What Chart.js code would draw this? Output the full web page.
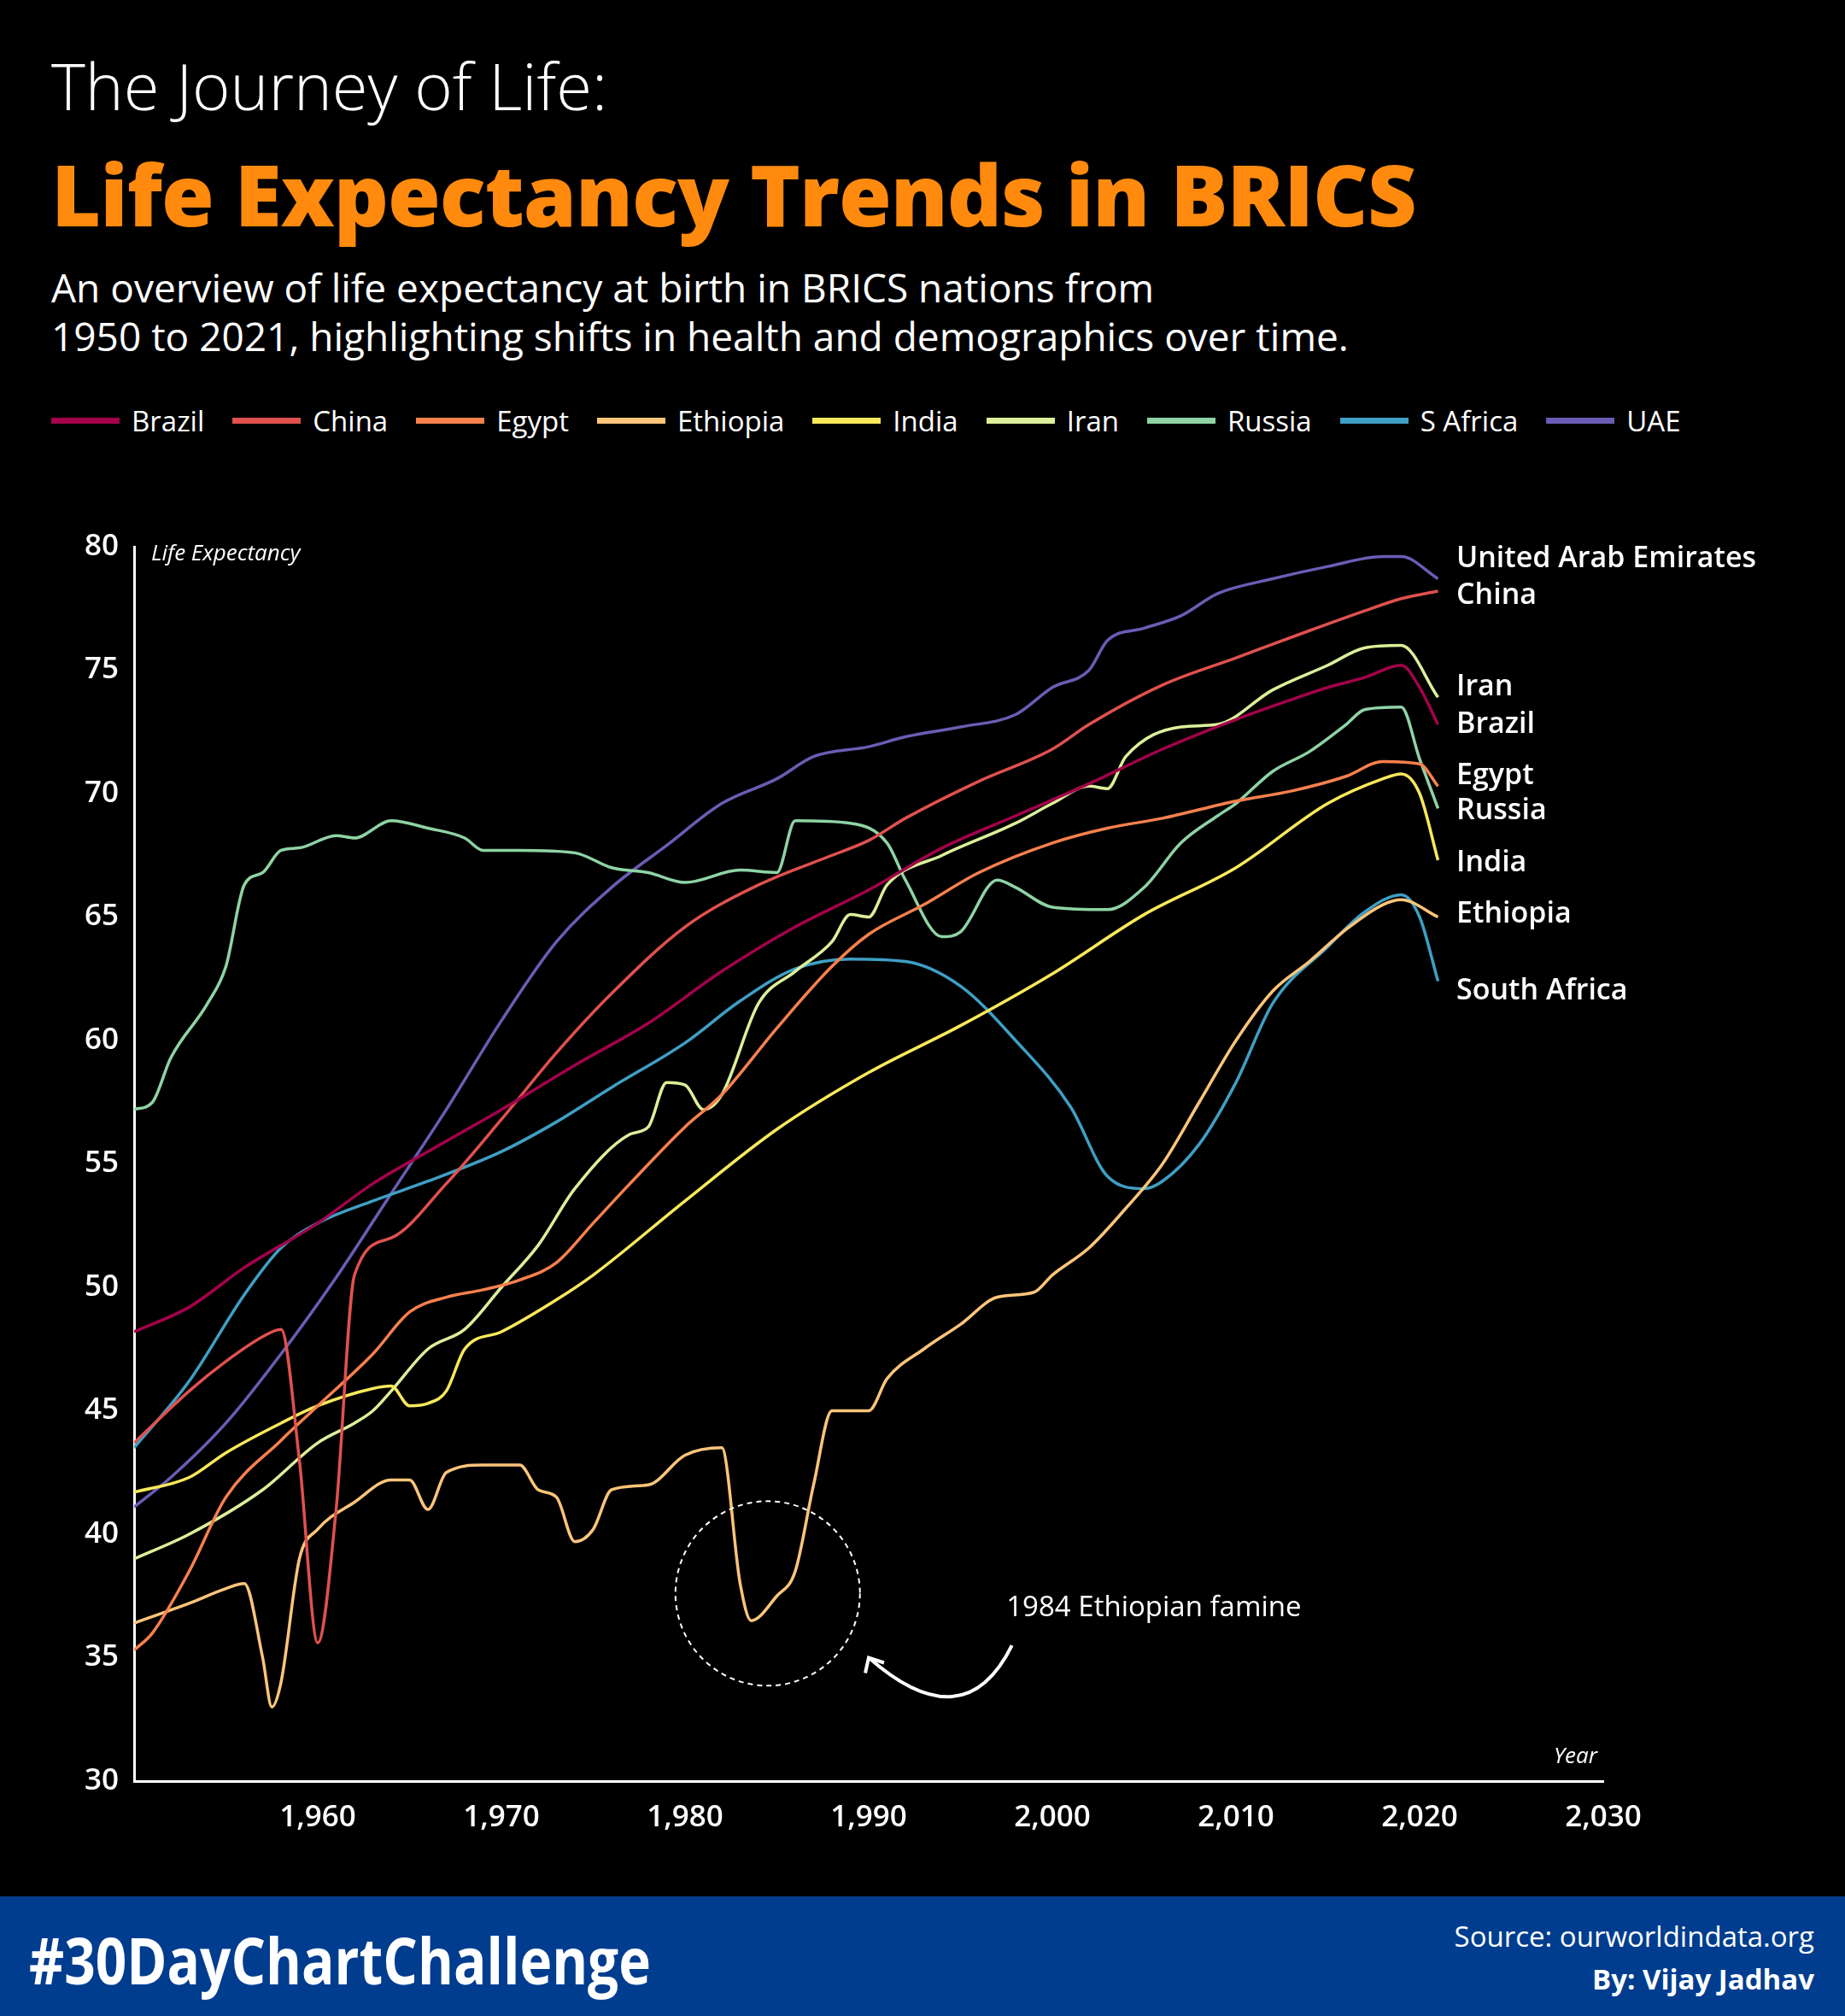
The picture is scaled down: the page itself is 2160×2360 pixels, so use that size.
<!DOCTYPE html>
<html>
<head>
<meta charset="utf-8">
<script src="https://cdn.jsdelivr.net/npm/chart.js@4.4.0/dist/chart.umd.min.js"></script>
<style>
  body { margin: 0; background: #000; width: 2160px; height: 2360px; overflow: hidden; font-family: 'Open Sans', sans-serif; color: #fff; }
  .t1 { position: absolute; left: 60px; top: 48px; font-size: 76px; font-weight: 300; }
  .t2 { position: absolute; left: 60px; top: 158px; font-size: 100px; font-weight: 800; color: #ff8a0d; letter-spacing: -1px; }
  .sub { position: absolute; left: 60px; top: 308px; font-size: 46px; font-weight: 400; line-height: 57px; }
  .legend { position: absolute; left: 60px; top: 470px; font-size: 33px; display: flex; }
  .legend span { display: flex; align-items: center; margin-right: 33px; }
  .legend i { display: inline-block; width: 80px; height: 7px; margin-right: 14px; }
  #wrap { position: absolute; left: 0; top: 560px; width: 2160px; height: 1640px; }
  .foot { position: absolute; left: 0; top: 2220px; width: 2160px; height: 140px; background: #003d8f; }
  .tag { position: absolute; left: 34px; top: 22px; font-weight: 700; font-size: 76px; transform: scaleX(0.84); transform-origin: left center; }
  .src { position: absolute; right: 36px; top: 22px; font-size: 33px; text-align: right; line-height: 50px; }
</style>
</head>
<body>
<div class="t1">The Journey of Life:</div>
<div class="t2">Life Expectancy Trends in BRICS</div>
<div class="sub">An overview of life expectancy at birth in BRICS nations from<br>1950 to 2021, highlighting shifts in health and demographics over time.</div>
<div class="legend" id="legend"></div>
<div id="wrap"><canvas id="chart"></canvas></div>
<div class="foot"><div class="tag">#30DayChartChallenge</div><div class="src">Source: ourworldindata.org<br><b>By: Vijay Jadhav</b></div></div>
<script>
const countries = ['Brazil', 'China', 'Egypt', 'Ethiopia', 'India', 'Iran', 'Russia', 'S Africa', 'UAE'];
const endLabels = ['Brazil', 'China', 'Egypt', 'Ethiopia', 'India', 'Iran', 'Russia', 'South Africa', 'United Arab Emirates'];
const endLabelY = [72.8, 78.0, 70.7, 65.1, 67.2, 74.3, 69.3, 62.0, 79.5];
const colors = ['#a3024a', '#e0514f', '#f7804d', '#fdc57a', '#f9e95a', '#dcef9a', '#8fd3a5', '#3f9fc4', '#6a5db5'];

const brazilYears = [1950, 1953, 1956, 1960, 1963, 1966, 1970, 1974, 1978, 1982, 1986, 1990, 1994, 1998, 2002, 2006, 2010, 2013, 2015, 2017, 2019, 2020, 2021];
const brazilVals = [48.2, 49.2, 50.8, 52.6, 54.2, 55.5, 57.2, 59.0, 60.7, 62.8, 64.6, 66.1, 67.8, 69.1, 70.4, 71.8, 73.0, 73.8, 74.3, 74.7, 75.2, 74.3, 72.8];
const chinaYears = [1950, 1953, 1955, 1957, 1958, 1959, 1960, 1961, 1962, 1964, 1967, 1970, 1973, 1976, 1980, 1984, 1988, 1990, 1992, 1996, 2000, 2002, 2006, 2010, 2014, 2017, 2019, 2021];
const chinaVals = [43.7, 45.8, 47.0, 48.0, 48.3, 43.0, 35.6, 41.0, 50.5, 52.0, 54.2, 56.8, 59.5, 61.9, 64.6, 66.3, 67.5, 68.1, 69.0, 70.5, 71.8, 72.8, 74.4, 75.5, 76.6, 77.4, 77.9, 78.2];
const egyptYears = [1950, 1951, 1953, 1955, 1958, 1960, 1963, 1965, 1967, 1969, 1971, 1973, 1975, 1977, 1980, 1982, 1985, 1988, 1990, 1993, 1996, 2000, 2003, 2006, 2010, 2013, 2016, 2018, 2020, 2021];
const egyptVals = [35.3, 36.0, 38.5, 41.5, 43.8, 45.2, 47.3, 49.0, 49.6, 49.9, 50.3, 51.0, 52.6, 54.2, 56.5, 57.8, 60.5, 63.0, 64.3, 65.5, 66.8, 68.0, 68.6, 69.0, 69.7, 70.1, 70.7, 71.3, 71.2, 70.3];
const ethiopiaYears = [1950, 1953, 1955, 1956, 1957, 1957.5, 1958, 1959, 1960, 1962, 1964, 1965, 1966, 1967, 1969, 1971, 1972, 1973, 1974, 1975, 1976, 1978, 1980, 1982, 1983, 1983.6, 1985, 1986, 1987, 1988, 1990, 1991, 1993, 1995, 1997, 1999, 2000, 2002, 2004, 2006, 2008, 2010, 2012, 2014, 2016, 2018, 2019, 2021];
const ethiopiaVals = [36.4, 37.2, 37.8, 38.0, 35.0, 33.0, 34.0, 39.0, 40.2, 41.3, 42.2, 42.2, 41.0, 42.5, 42.8, 42.8, 41.8, 41.5, 39.7, 40.2, 41.8, 42.0, 43.2, 43.5, 38.0, 36.5, 37.5, 38.5, 42.0, 45.0, 45.0, 46.3, 47.5, 48.5, 49.6, 49.8, 50.5, 51.6, 53.2, 55.0, 57.5, 60.0, 62.0, 63.2, 64.5, 65.5, 65.7, 65.0];
const indiaYears = [1950, 1953, 1955, 1958, 1960, 1963, 1964, 1965, 1966, 1967, 1968, 1970, 1973, 1975, 1980, 1985, 1990, 1995, 2000, 2005, 2010, 2015, 2018, 2019, 2020, 2021];
const indiaVals = [41.7, 42.3, 43.3, 44.5, 45.2, 45.9, 46.0, 45.2, 45.3, 45.8, 47.5, 48.2, 49.5, 50.5, 53.5, 56.4, 58.7, 60.6, 62.7, 65.1, 67.0, 69.6, 70.6, 70.8, 70.0, 67.3];
const iranYears = [1950, 1953, 1957, 1960, 1962, 1963, 1964, 1966, 1968, 1970, 1972, 1974, 1977, 1978, 1979, 1980, 1981, 1982, 1984, 1986, 1988, 1989, 1990, 1991, 1994, 1998, 2000, 2002, 2003, 2004, 2007, 2009, 2012, 2015, 2017, 2019, 2021];
const iranVals = [39.0, 40.0, 41.8, 43.7, 44.5, 45.0, 45.8, 47.5, 48.3, 50.0, 51.7, 54.0, 56.2, 56.5, 58.3, 58.2, 57.2, 57.8, 61.5, 62.8, 64.0, 65.1, 65.0, 66.3, 67.5, 68.8, 69.6, 70.3, 70.2, 71.5, 72.7, 72.8, 74.2, 75.2, 75.9, 76.0, 73.9];
const russiaYears = [1950, 1951, 1952, 1954, 1955, 1956, 1957, 1958, 1959, 1961, 1962, 1964, 1966, 1968, 1969, 1971, 1974, 1976, 1978, 1980, 1983, 1985, 1986, 1989, 1991, 1992, 1994, 1995, 1997, 1998, 2000, 2003, 2005, 2007, 2009, 2010, 2012, 2014, 2016, 2017, 2019, 2020, 2021];
const russiaVals = [57.2, 57.5, 59.3, 61.5, 63.0, 66.3, 66.8, 67.7, 67.8, 68.3, 68.2, 68.9, 68.6, 68.2, 67.7, 67.7, 67.6, 67.0, 66.8, 66.4, 66.9, 66.8, 68.9, 68.8, 68.0, 66.5, 64.2, 64.4, 66.5, 66.2, 65.4, 65.3, 66.2, 68.0, 69.1, 69.6, 70.9, 71.7, 72.8, 73.4, 73.5, 71.4, 69.4];
const safricaYears = [1950, 1953, 1956, 1958, 1960, 1963, 1966, 1970, 1973, 1976, 1980, 1983, 1986, 1989, 1992, 1995, 1998, 2001, 2003, 2005, 2006, 2008, 2010, 2012, 2015, 2017, 2019, 2020, 2021];
const safricaVals = [43.5, 46.2, 49.7, 51.6, 52.6, 53.5, 54.3, 55.5, 56.7, 58.1, 59.9, 61.6, 62.9, 63.3, 63.2, 62.2, 60.0, 57.3, 54.5, 54.0, 54.3, 55.8, 58.3, 61.5, 63.8, 65.2, 65.9, 65.0, 62.4];
const uaeYears = [1950, 1952, 1955, 1958, 1961, 1964, 1967, 1970, 1973, 1976, 1979, 1982, 1985, 1987, 1990, 1992, 1995, 1998, 2000, 2002, 2003, 2005, 2007, 2009, 2012, 2015, 2018, 2019, 2021];
const uaeVals = [41.1, 42.3, 44.5, 47.3, 50.4, 53.8, 57.2, 60.8, 64.0, 66.2, 67.9, 69.6, 70.6, 71.5, 71.9, 72.3, 72.7, 73.2, 74.3, 75.0, 76.2, 76.7, 77.2, 78.1, 78.7, 79.2, 79.6, 79.6, 78.7];

const yearsList = [brazilYears, chinaYears, egyptYears, ethiopiaYears, indiaYears, iranYears, russiaYears, safricaYears, uaeYears];
const valsList = [brazilVals, chinaVals, egyptVals, ethiopiaVals, indiaVals, iranVals, russiaVals, safricaVals, uaeVals];

const legend = document.getElementById('legend');
countries.forEach((c, i) => {
  legend.innerHTML += `<span><i style="background:${colors[i]}"></i>${c}</span>`;
});

const datasets = countries.map((c, i) => ({
  label: c,
  data: yearsList[i].map((y, j) => ({ x: y, y: valsList[i][j] })),
  borderColor: colors[i],
  borderWidth: 3.5,
  pointRadius: 0,
  cubicInterpolationMode: 'monotone',
  fill: false
}));

const overlay = {
  id: 'overlay',
  afterDatasetsDraw(chart) {
    const { ctx, scales: { x, y } } = chart;
    ctx.save();
    ctx.fillStyle = '#fff';
    ctx.textBaseline = 'middle';
    ctx.font = '600 34px "Open Sans"';
    endLabels.forEach((l, i) => ctx.fillText(l, x.getPixelForValue(2022), y.getPixelForValue(endLabelY[i])));
    ctx.font = 'italic 26px "Open Sans"';
    ctx.fillText('Life Expectancy', x.left + 20, y.getPixelForValue(79.7));
    ctx.fillText('Year', x.getPixelForValue(2027.3), y.bottom - 28);
    // famine annotation
    const cx = x.getPixelForValue(1984.5), cy = y.getPixelForValue(37.6);
    ctx.strokeStyle = '#fff';
    ctx.lineWidth = 2;
    ctx.setLineDash([6, 5]);
    ctx.beginPath(); ctx.arc(cx, cy, 108, 0, Math.PI * 2); ctx.stroke();
    ctx.setLineDash([]);
    ctx.font = '33px "Open Sans"';
    ctx.fillText('1984 Ethiopian famine', x.getPixelForValue(1997.5), y.getPixelForValue(37.0));
    const ax = x.getPixelForValue(1997.8), ay = y.getPixelForValue(35.5);
    const bx = x.getPixelForValue(1990), by = y.getPixelForValue(35.0);
    ctx.lineWidth = 4;
    ctx.beginPath();
    ctx.moveTo(ax, ay);
    ctx.quadraticCurveTo(x.getPixelForValue(1995.2), y.getPixelForValue(31.6), bx, by);
    ctx.stroke();
    ctx.beginPath();
    ctx.moveTo(bx - 4, by + 18); ctx.lineTo(bx, by); ctx.lineTo(bx + 18, by + 6);
    ctx.stroke();
    ctx.restore();
  }
};

new Chart(document.getElementById('chart'), {
  type: 'line',
  data: { datasets },
  options: {
    responsive: true,
    maintainAspectRatio: false,
    animation: false,
    layout: { padding: { top: 80, right: 283, left: 0, bottom: 0 } },
    plugins: { legend: { display: false }, tooltip: { enabled: false } },
    scales: {
      x: {
        type: 'linear', min: 1950, max: 2030,
        afterFit: s => { s.height = 115; },
        grid: { display: false, drawTicks: true, tickLength: 10, tickColor: '#fff' },
        border: { color: '#fff', width: 3 },
        ticks: {
          stepSize: 10, color: '#fff', font: { size: 35, family: 'Open Sans', weight: '600' }, padding: 12,
          callback: v => v === 1950 ? '' : v.toLocaleString('en-US')
        }
      },
      y: {
        min: 30, max: 80,
        afterFit: s => { s.width = 157; },
        grid: { display: false, drawTicks: true, tickLength: 10, tickColor: '#fff' },
        border: { color: '#fff', width: 3 },
        ticks: { stepSize: 5, color: '#fff', font: { size: 35, family: 'Open Sans', weight: '600' }, padding: 8 }
      }
    }
  },
  plugins: [overlay]
});
</script>
</body>
</html>
